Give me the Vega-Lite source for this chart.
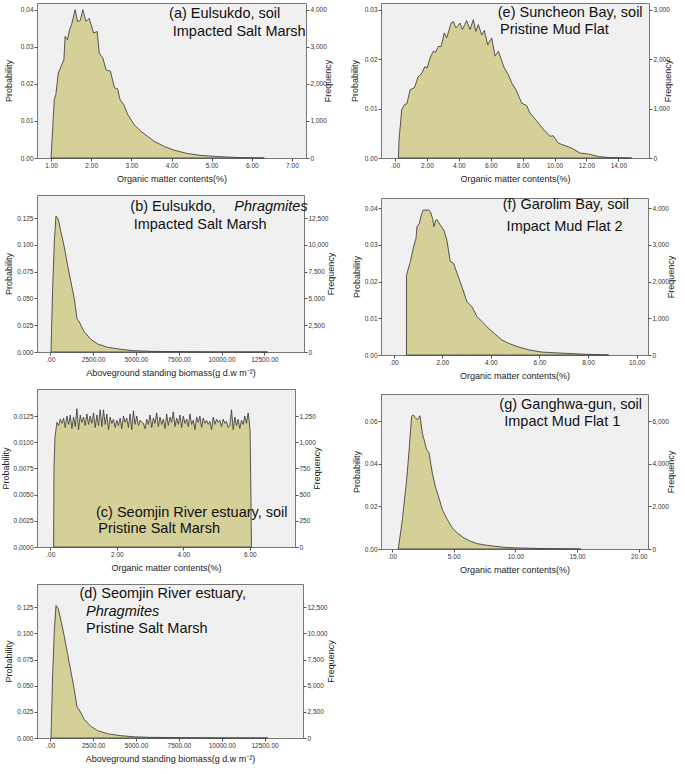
{
  "$schema": "https://vega.github.io/schema/vega-lite/v6.json",
  "padding": {"left": 0, "top": 2, "right": 0, "bottom": 0},
  "background": "white",
  "config": {
    "view": {"fill": "#f0f0f0", "stroke": "#777777", "strokeWidth": 1},
    "axis": {"labelFont": "Liberation Sans", "labelFontSize": 6.5, "labelColor": "#333", "tickColor": "#555", "tickSize": 3, "domain": false, "grid": false, "titleFont": "Liberation Sans", "titleFontSize": 9, "titleFontWeight": "normal", "titleColor": "#222", "labelPadding": 1, "titlePadding": 3, "labelOverlap": false},
    "axisX": {"titlePadding": 6},
    "area": {"color": "#d5cf98", "stroke": "#3c3c3c", "strokeWidth": 0.85, "strokeJoin": "round"},
    "text": {"font": "Liberation Sans", "fontSize": 14.5, "align": "left", "baseline": "middle", "color": "#111"}
  },
  "datasets": {
    "a": [
      {"x": 1.0, "p": 0}, {"x": 1.08, "p": 0.0157}, {"x": 1.12, "p": 0.0171}, {"x": 1.18, "p": 0.0229}, {"x": 1.25, "p": 0.0247}, {"x": 1.32, "p": 0.0265}, {"x": 1.35, "p": 0.0328}, {"x": 1.41, "p": 0.0319}, {"x": 1.46, "p": 0.0346}, {"x": 1.51, "p": 0.0359}, {"x": 1.6, "p": 0.04}, {"x": 1.66, "p": 0.0368}, {"x": 1.73, "p": 0.0371}, {"x": 1.79, "p": 0.04}, {"x": 1.87, "p": 0.0368}, {"x": 1.95, "p": 0.0377}, {"x": 2.06, "p": 0.0337}, {"x": 2.15, "p": 0.0341}, {"x": 2.2, "p": 0.0283}, {"x": 2.29, "p": 0.027}, {"x": 2.37, "p": 0.0238}, {"x": 2.48, "p": 0.0234}, {"x": 2.58, "p": 0.0189}, {"x": 2.66, "p": 0.0186}, {"x": 2.72, "p": 0.0157}, {"x": 2.81, "p": 0.0144}, {"x": 2.91, "p": 0.0117}, {"x": 3.07, "p": 0.009}, {"x": 3.24, "p": 0.0072}, {"x": 3.41, "p": 0.0058}, {"x": 3.57, "p": 0.0045}, {"x": 3.82, "p": 0.0031}, {"x": 4.07, "p": 0.0021}, {"x": 4.4, "p": 0.0012}, {"x": 4.73, "p": 0.0007}, {"x": 5.15, "p": 0.0004}, {"x": 5.73, "p": 0.0001}, {"x": 6.31, "p": 0}
    ],
    "b": [
      {"x": 39, "p": 0}, {"x": 136, "p": 0.059}, {"x": 234, "p": 0.1026}, {"x": 331, "p": 0.1269}, {"x": 467, "p": 0.1238}, {"x": 623, "p": 0.1119}, {"x": 818, "p": 0.0979}, {"x": 1012, "p": 0.0808}, {"x": 1207, "p": 0.0653}, {"x": 1402, "p": 0.0498}, {"x": 1558, "p": 0.0311}, {"x": 1694, "p": 0.028}, {"x": 1986, "p": 0.0187}, {"x": 2375, "p": 0.0118}, {"x": 2765, "p": 0.0075}, {"x": 3349, "p": 0.0044}, {"x": 4128, "p": 0.0025}, {"x": 4906, "p": 0.0012}, {"x": 5880, "p": 0.0006}, {"x": 7827, "p": 0.0003}, {"x": 9774, "p": 0.0001}, {"x": 12694, "p": 0}
    ],
    "c": [
      {"x": 0.1, "p": 0}, {"x": 0.11, "p": 0.0075}, {"x": 0.14, "p": 0.0105}, {"x": 0.17, "p": 0.0112},
      {"x": 0.2, "p": 0.0119}, {"x": 0.25, "p": 0.0116}, {"x": 0.3, "p": 0.0122}, {"x": 0.35, "p": 0.0118}, {"x": 0.4, "p": 0.0123}, {"x": 0.45, "p": 0.0114}, {"x": 0.5, "p": 0.0125}, {"x": 0.55, "p": 0.0117}, {"x": 0.6, "p": 0.0126}, {"x": 0.65, "p": 0.0113}, {"x": 0.7, "p": 0.0124}, {"x": 0.75, "p": 0.0115}, {"x": 0.8, "p": 0.0132}, {"x": 0.85, "p": 0.0112}, {"x": 0.9, "p": 0.0126}, {"x": 0.95, "p": 0.0119},
      {"x": 1.0, "p": 0.0124}, {"x": 1.05, "p": 0.0116}, {"x": 1.1, "p": 0.0127}, {"x": 1.15, "p": 0.0117}, {"x": 1.2, "p": 0.0125}, {"x": 1.25, "p": 0.0118}, {"x": 1.3, "p": 0.0128}, {"x": 1.35, "p": 0.0114}, {"x": 1.4, "p": 0.0126}, {"x": 1.45, "p": 0.0116}, {"x": 1.5, "p": 0.0131}, {"x": 1.55, "p": 0.0115}, {"x": 1.6, "p": 0.0131}, {"x": 1.65, "p": 0.0117}, {"x": 1.7, "p": 0.0127}, {"x": 1.75, "p": 0.0112}, {"x": 1.8, "p": 0.0124}, {"x": 1.85, "p": 0.0118}, {"x": 1.9, "p": 0.0122}, {"x": 1.95, "p": 0.0114},
      {"x": 2.0, "p": 0.0121}, {"x": 2.05, "p": 0.0116}, {"x": 2.1, "p": 0.0123}, {"x": 2.15, "p": 0.0113}, {"x": 2.2, "p": 0.0125}, {"x": 2.25, "p": 0.0119}, {"x": 2.3, "p": 0.0123}, {"x": 2.35, "p": 0.0114}, {"x": 2.4, "p": 0.0127}, {"x": 2.45, "p": 0.0112}, {"x": 2.5, "p": 0.013}, {"x": 2.55, "p": 0.0117}, {"x": 2.6, "p": 0.0125}, {"x": 2.65, "p": 0.0116}, {"x": 2.7, "p": 0.0121}, {"x": 2.75, "p": 0.0119}, {"x": 2.8, "p": 0.0118}, {"x": 2.85, "p": 0.0113}, {"x": 2.9, "p": 0.0122}, {"x": 2.95, "p": 0.0117},
      {"x": 3.0, "p": 0.0126}, {"x": 3.05, "p": 0.0114}, {"x": 3.1, "p": 0.0123}, {"x": 3.15, "p": 0.0118}, {"x": 3.2, "p": 0.0128}, {"x": 3.25, "p": 0.0115}, {"x": 3.3, "p": 0.0124}, {"x": 3.35, "p": 0.0117}, {"x": 3.4, "p": 0.0122}, {"x": 3.45, "p": 0.0113}, {"x": 3.5, "p": 0.0127}, {"x": 3.55, "p": 0.0116}, {"x": 3.6, "p": 0.0124}, {"x": 3.65, "p": 0.0119}, {"x": 3.7, "p": 0.0129}, {"x": 3.75, "p": 0.0115}, {"x": 3.8, "p": 0.0123}, {"x": 3.85, "p": 0.0117}, {"x": 3.9, "p": 0.0126}, {"x": 3.95, "p": 0.0114},
      {"x": 4.0, "p": 0.0125}, {"x": 4.05, "p": 0.0118}, {"x": 4.1, "p": 0.0122}, {"x": 4.15, "p": 0.0115}, {"x": 4.2, "p": 0.0127}, {"x": 4.25, "p": 0.0117}, {"x": 4.3, "p": 0.0121}, {"x": 4.35, "p": 0.0112}, {"x": 4.4, "p": 0.0124}, {"x": 4.45, "p": 0.0119}, {"x": 4.5, "p": 0.0125}, {"x": 4.55, "p": 0.0114}, {"x": 4.6, "p": 0.0123}, {"x": 4.65, "p": 0.0118}, {"x": 4.7, "p": 0.0121}, {"x": 4.75, "p": 0.0117}, {"x": 4.8, "p": 0.012}, {"x": 4.85, "p": 0.0112}, {"x": 4.9, "p": 0.0124}, {"x": 4.95, "p": 0.0117},
      {"x": 5.0, "p": 0.0122}, {"x": 5.05, "p": 0.0119}, {"x": 5.1, "p": 0.0121}, {"x": 5.15, "p": 0.0115}, {"x": 5.2, "p": 0.0122}, {"x": 5.25, "p": 0.0118}, {"x": 5.3, "p": 0.012}, {"x": 5.35, "p": 0.0114}, {"x": 5.4, "p": 0.0116}, {"x": 5.45, "p": 0.0131}, {"x": 5.5, "p": 0.0112}, {"x": 5.55, "p": 0.0124}, {"x": 5.6, "p": 0.0116}, {"x": 5.65, "p": 0.0122}, {"x": 5.7, "p": 0.0113}, {"x": 5.75, "p": 0.0121}, {"x": 5.8, "p": 0.0117}, {"x": 5.85, "p": 0.0125}, {"x": 5.9, "p": 0.0118}, {"x": 5.95, "p": 0.0128},
      {"x": 5.98, "p": 0.0121}, {"x": 6.01, "p": 0.011}, {"x": 6.03, "p": 0.006}, {"x": 6.05, "p": 0}
    ],
    "d": [
      {"x": 39, "p": 0}, {"x": 136, "p": 0.061}, {"x": 234, "p": 0.1027}, {"x": 331, "p": 0.1268}, {"x": 467, "p": 0.1236}, {"x": 623, "p": 0.1122}, {"x": 818, "p": 0.097}, {"x": 1012, "p": 0.0798}, {"x": 1207, "p": 0.0632}, {"x": 1402, "p": 0.046}, {"x": 1558, "p": 0.0295}, {"x": 1694, "p": 0.0268}, {"x": 1986, "p": 0.0176}, {"x": 2375, "p": 0.011}, {"x": 2765, "p": 0.007}, {"x": 3349, "p": 0.004}, {"x": 4128, "p": 0.0022}, {"x": 4906, "p": 0.0011}, {"x": 5880, "p": 0.0006}, {"x": 7827, "p": 0.0003}, {"x": 9774, "p": 0.0001}, {"x": 12694, "p": 0}
    ],
    "e": [
      {"x": 0.21, "p": 0}, {"x": 0.25, "p": 0.0037}, {"x": 0.42, "p": 0.0098}, {"x": 0.59, "p": 0.0108}, {"x": 0.75, "p": 0.011}, {"x": 0.94, "p": 0.0138}, {"x": 1.21, "p": 0.0142}, {"x": 1.46, "p": 0.0165}, {"x": 1.63, "p": 0.0169}, {"x": 1.88, "p": 0.0185}, {"x": 2.01, "p": 0.0182}, {"x": 2.19, "p": 0.0202}, {"x": 2.4, "p": 0.0216}, {"x": 2.55, "p": 0.0214}, {"x": 2.72, "p": 0.0226}, {"x": 2.88, "p": 0.0225}, {"x": 3.09, "p": 0.0253}, {"x": 3.24, "p": 0.0243}, {"x": 3.51, "p": 0.0273}, {"x": 3.66, "p": 0.0276}, {"x": 3.82, "p": 0.0263}, {"x": 4.07, "p": 0.0273}, {"x": 4.22, "p": 0.026}, {"x": 4.49, "p": 0.0278}, {"x": 4.7, "p": 0.026}, {"x": 4.91, "p": 0.028}, {"x": 5.06, "p": 0.0256}, {"x": 5.22, "p": 0.027}, {"x": 5.43, "p": 0.0249}, {"x": 5.6, "p": 0.0258}, {"x": 5.81, "p": 0.0229}, {"x": 6.06, "p": 0.0243}, {"x": 6.27, "p": 0.0206}, {"x": 6.48, "p": 0.0216}, {"x": 6.85, "p": 0.0182}, {"x": 7.1, "p": 0.0169}, {"x": 7.31, "p": 0.0152}, {"x": 7.58, "p": 0.0138}, {"x": 7.94, "p": 0.0111}, {"x": 8.25, "p": 0.0106}, {"x": 8.46, "p": 0.0091}, {"x": 8.98, "p": 0.0071}, {"x": 9.4, "p": 0.0054}, {"x": 9.72, "p": 0.0044}, {"x": 9.92, "p": 0.0045}, {"x": 10.24, "p": 0.003}, {"x": 10.66, "p": 0.0025}, {"x": 11.07, "p": 0.002}, {"x": 11.6, "p": 0.001}, {"x": 12.12, "p": 0.0008}, {"x": 12.75, "p": 0.0003}, {"x": 13.37, "p": 0.0001}, {"x": 14.83, "p": 0}
    ],
    "f": [
      {"x": 0.53, "p": 0}, {"x": 0.531, "p": 0.0218}, {"x": 0.69, "p": 0.0255}, {"x": 0.82, "p": 0.0295}, {"x": 0.92, "p": 0.0318}, {"x": 0.96, "p": 0.035}, {"x": 1.06, "p": 0.0359}, {"x": 1.14, "p": 0.0382}, {"x": 1.21, "p": 0.0395}, {"x": 1.44, "p": 0.0395}, {"x": 1.51, "p": 0.0391}, {"x": 1.6, "p": 0.0373}, {"x": 1.66, "p": 0.035}, {"x": 1.73, "p": 0.0368}, {"x": 1.8, "p": 0.0368}, {"x": 1.91, "p": 0.0355}, {"x": 2.06, "p": 0.0341}, {"x": 2.19, "p": 0.0314}, {"x": 2.33, "p": 0.0255}, {"x": 2.47, "p": 0.025}, {"x": 2.61, "p": 0.0223}, {"x": 2.81, "p": 0.0186}, {"x": 3.02, "p": 0.0145}, {"x": 3.22, "p": 0.0132}, {"x": 3.43, "p": 0.0105}, {"x": 3.64, "p": 0.0091}, {"x": 3.84, "p": 0.0077}, {"x": 4.05, "p": 0.0064}, {"x": 4.46, "p": 0.0041}, {"x": 4.73, "p": 0.0032}, {"x": 5.08, "p": 0.0023}, {"x": 5.56, "p": 0.0014}, {"x": 6.1, "p": 0.0008}, {"x": 6.93, "p": 0.0005}, {"x": 7.89, "p": 0.0002}, {"x": 8.85, "p": 0}
    ],
    "g": [
      {"x": 0.51, "p": 0}, {"x": 0.84, "p": 0.0138}, {"x": 1.19, "p": 0.0326}, {"x": 1.38, "p": 0.0459}, {"x": 1.59, "p": 0.0624}, {"x": 1.73, "p": 0.0631}, {"x": 1.86, "p": 0.062}, {"x": 2.05, "p": 0.0608}, {"x": 2.27, "p": 0.0627}, {"x": 2.46, "p": 0.0545}, {"x": 2.81, "p": 0.0467}, {"x": 3.0, "p": 0.0454}, {"x": 3.27, "p": 0.0357}, {"x": 3.54, "p": 0.0287}, {"x": 3.81, "p": 0.024}, {"x": 4.08, "p": 0.0185}, {"x": 4.49, "p": 0.0138}, {"x": 4.89, "p": 0.0099}, {"x": 5.3, "p": 0.0075}, {"x": 5.84, "p": 0.0052}, {"x": 6.38, "p": 0.0036}, {"x": 6.92, "p": 0.0025}, {"x": 7.73, "p": 0.0017}, {"x": 9.08, "p": 0.0008}, {"x": 10.16, "p": 0.0005}, {"x": 12.32, "p": 0.0002}, {"x": 15.3, "p": 0}
    ]
  },
  "hconcat": [
    {
      "spacing": 10,
      "align": "each",
      "vconcat": [
        {
          "width": 269, "height": 155,
          "layer": [
            {"layer": [
              {"data": {"name": "a"}, "mark": {"type": "area"},
               "encoding": {
                 "x": {"field": "x", "type": "quantitative", "scale": {"domain": [0.65, 7.35], "nice": false, "zero": false}, "axis": {"title": "Organic matter contents(%)", "values": [1, 2, 3, 4, 5, 6, 7], "labelExpr": "datum.value == 0 ? '.00' : format(datum.value, '.2f')"}},
                 "y": {"field": "p", "type": "quantitative", "scale": {"domain": [0, 0.0418], "nice": false}, "axis": {"orient": "left", "title": "Probability", "titlePadding": 7, "values": [0, 0.01, 0.02, 0.03, 0.04], "labelExpr": "format(datum.value, '.2f')"}}
               }},
              {"data": {"values": [{}]}, "mark": {"type": "text", "text": "(a) Eulsukdo, soil"}, "encoding": {"x": {"datum": 3.94, "type": "quantitative", "axis": null}, "y": {"datum": 0.0387, "type": "quantitative", "axis": null}}},
              {"data": {"values": [{}]}, "mark": {"type": "text", "text": "Impacted Salt Marsh"}, "encoding": {"x": {"datum": 4.03, "type": "quantitative", "axis": null}, "y": {"datum": 0.0341, "type": "quantitative", "axis": null}}}
            ], "resolve": {"axis": {"x": "independent", "y": "independent"}}},
            {"data": {"name": "a"}, "mark": {"type": "rule", "opacity": 0},
             "encoding": {"y": {"field": "p", "type": "quantitative", "scale": {"domain": [0, 4180], "nice": false}, "axis": {"orient": "right", "title": "Frequency", "titleAngle": 270, "titlePadding": 6, "values": [0, 1000, 2000, 3000, 4000], "labelExpr": "format(datum.value, ',')"}}}}
          ],
          "resolve": {"scale": {"y": "independent"}}
        },
        {
          "width": 267, "height": 157,
          "layer": [
            {"layer": [
              {"data": {"name": "b"}, "mark": {"type": "area"},
               "encoding": {
                 "x": {"field": "x", "type": "quantitative", "scale": {"domain": [-777, 14818], "nice": false, "zero": false}, "axis": {"title": "Aboveground standing biomass(g d.w  m⁻²)", "values": [0, 2500, 5000, 7500, 10000, 12500], "labelExpr": "datum.value == 0 ? '.00' : format(datum.value, '.2f')"}},
                 "y": {"field": "p", "type": "quantitative", "scale": {"domain": [0, 0.1465], "nice": false}, "axis": {"orient": "left", "title": "Probability", "titlePadding": 3, "values": [0, 0.025, 0.05, 0.075, 0.1, 0.125], "labelExpr": "format(datum.value, '.3f')"}}
               }},
              {"data": {"values": [{}]}, "mark": {"type": "text", "text": "(b) Eulsukdo,"}, "encoding": {"x": {"datum": 4673, "type": "quantitative", "axis": null}, "y": {"datum": 0.1353, "type": "quantitative", "axis": null}}},
              {"data": {"values": [{}]}, "mark": {"type": "text", "text": "Phragmites", "fontStyle": "italic"}, "encoding": {"x": {"datum": 10748, "type": "quantitative", "axis": null}, "y": {"datum": 0.1353, "type": "quantitative", "axis": null}}},
              {"data": {"values": [{}]}, "mark": {"type": "text", "text": "Impacted Salt Marsh"}, "encoding": {"x": {"datum": 4871, "type": "quantitative", "axis": null}, "y": {"datum": 0.1188, "type": "quantitative", "axis": null}}}
            ], "resolve": {"axis": {"x": "independent", "y": "independent"}}},
            {"data": {"name": "b"}, "mark": {"type": "rule", "opacity": 0},
             "encoding": {"y": {"field": "p", "type": "quantitative", "scale": {"domain": [0, 14650], "nice": false}, "axis": {"orient": "right", "title": "Frequency", "titleAngle": 270, "titlePadding": 8, "values": [0, 2500, 5000, 7500, 10000, 12500], "labelExpr": "format(datum.value, ',')"}}}}
          ],
          "resolve": {"scale": {"y": "independent"}}
        },
        {
          "width": 258, "height": 158,
          "layer": [
            {"layer": [
              {"data": {"name": "c"}, "mark": {"type": "area"},
               "encoding": {
                 "x": {"field": "x", "type": "quantitative", "scale": {"domain": [-0.4, 7.36], "nice": false, "zero": false}, "axis": {"title": "Organic matter contents(%)", "values": [0, 2, 4, 6], "labelExpr": "datum.value == 0 ? '.00' : format(datum.value, '.2f')"}},
                 "y": {"field": "p", "type": "quantitative", "scale": {"domain": [0, 0.01508], "nice": false}, "axis": {"orient": "left", "title": "Probability", "titlePadding": 3, "values": [0, 0.0025, 0.005, 0.0075, 0.01, 0.0125], "labelExpr": "format(datum.value, '.4f')"}}
               }},
              {"data": {"values": [{}]}, "mark": {"type": "text", "text": "(c) Seomjin River estuary, soil"}, "encoding": {"x": {"datum": 1.375, "type": "quantitative", "axis": null}, "y": {"datum": 0.00327, "type": "quantitative", "axis": null}}},
              {"data": {"values": [{}]}, "mark": {"type": "text", "text": "Pristine Salt Marsh"}, "encoding": {"x": {"datum": 1.444, "type": "quantitative", "axis": null}, "y": {"datum": 0.00168, "type": "quantitative", "axis": null}}}
            ], "resolve": {"axis": {"x": "independent", "y": "independent"}}},
            {"data": {"name": "c"}, "mark": {"type": "rule", "opacity": 0},
             "encoding": {"y": {"field": "p", "type": "quantitative", "scale": {"domain": [0, 1508], "nice": false}, "axis": {"orient": "right", "title": "Frequency", "titleAngle": 270, "titlePadding": 6, "values": [0, 250, 500, 750, 1000, 1250], "labelExpr": "format(datum.value, ',')"}}}}
          ],
          "resolve": {"scale": {"y": "independent"}}
        },
        {
          "width": 266, "height": 154,
          "layer": [
            {"layer": [
              {"data": {"name": "d"}, "mark": {"type": "area"},
               "encoding": {
                 "x": {"field": "x", "type": "quantitative", "scale": {"domain": [-777, 14743], "nice": false, "zero": false}, "axis": {"title": "Aboveground standing biomass(g d.w  m⁻²)", "values": [0, 2500, 5000, 7500, 10000, 12500], "labelExpr": "datum.value == 0 ? '.00' : format(datum.value, '.2f')"}},
                 "y": {"field": "p", "type": "quantitative", "scale": {"domain": [0, 0.1473], "nice": false}, "axis": {"orient": "left", "title": "Probability", "titlePadding": 3, "values": [0, 0.025, 0.05, 0.075, 0.1, 0.125], "labelExpr": "format(datum.value, '.3f')"}}
               }},
              {"data": {"values": [{}]}, "mark": {"type": "text", "text": "(d) Seomjin River estuary,"}, "encoding": {"x": {"datum": 1700, "type": "quantitative", "axis": null}, "y": {"datum": 0.1377, "type": "quantitative", "axis": null}}},
              {"data": {"values": [{}]}, "mark": {"type": "text", "text": "Phragmites", "fontStyle": "italic"}, "encoding": {"x": {"datum": 2080, "type": "quantitative", "axis": null}, "y": {"datum": 0.1201, "type": "quantitative", "axis": null}}},
              {"data": {"values": [{}]}, "mark": {"type": "text", "text": "Pristine Salt Marsh"}, "encoding": {"x": {"datum": 2080, "type": "quantitative", "axis": null}, "y": {"datum": 0.1043, "type": "quantitative", "axis": null}}}
            ], "resolve": {"axis": {"x": "independent", "y": "independent"}}},
            {"data": {"name": "d"}, "mark": {"type": "rule", "opacity": 0},
             "encoding": {"y": {"field": "p", "type": "quantitative", "scale": {"domain": [0, 14730], "nice": false}, "axis": {"orient": "right", "title": "Frequency", "titleAngle": 270, "titlePadding": 9, "values": [0, 2500, 5000, 7500, 10000, 12500], "labelExpr": "format(datum.value, ',')"}}}}
          ],
          "resolve": {"scale": {"y": "independent"}}
        }
      ]
    },
    {
      "spacing": 12,
      "align": "each",
      "vconcat": [
        {
          "width": 268, "height": 155,
          "layer": [
            {"layer": [
              {"data": {"name": "e"}, "mark": {"type": "area"},
               "encoding": {
                 "x": {"field": "x", "type": "quantitative", "scale": {"domain": [-0.88, 15.92], "nice": false, "zero": false}, "axis": {"title": "Organic matter contents(%)", "values": [0, 2, 4, 6, 8, 10, 12, 14], "labelExpr": "datum.value == 0 ? '.00' : format(datum.value, '.2f')"}},
                 "y": {"field": "p", "type": "quantitative", "scale": {"domain": [0, 0.03136], "nice": false}, "axis": {"orient": "left", "title": "Probability", "titlePadding": 5, "values": [0, 0.01, 0.02, 0.03], "labelExpr": "format(datum.value, '.2f')"}}
               }},
              {"data": {"values": [{}]}, "mark": {"type": "text", "text": "(e) Suncheon Bay, soil"}, "encoding": {"x": {"datum": 6.44, "type": "quantitative", "axis": null}, "y": {"datum": 0.0293, "type": "quantitative", "axis": null}}},
              {"data": {"values": [{}]}, "mark": {"type": "text", "text": "Pristine Mud Flat"}, "encoding": {"x": {"datum": 6.58, "type": "quantitative", "axis": null}, "y": {"datum": 0.0258, "type": "quantitative", "axis": null}}}
            ], "resolve": {"axis": {"x": "independent", "y": "independent"}}},
            {"data": {"name": "e"}, "mark": {"type": "rule", "opacity": 0},
             "encoding": {"y": {"field": "p", "type": "quantitative", "scale": {"domain": [0, 3136], "nice": false}, "axis": {"orient": "right", "title": "Frequency", "titleAngle": 270, "titlePadding": 3, "values": [0, 1000, 2000, 3000], "labelExpr": "format(datum.value, ',')"}}}}
          ],
          "resolve": {"scale": {"y": "independent"}}
        },
        {
          "width": 267, "height": 157,
          "layer": [
            {"layer": [
              {"data": {"name": "f"}, "mark": {"type": "area"},
               "encoding": {
                 "x": {"field": "x", "type": "quantitative", "scale": {"domain": [-0.52, 10.47], "nice": false, "zero": false}, "axis": {"title": "Organic matter contents(%)", "values": [0, 2, 4, 6, 8, 10], "labelExpr": "datum.value == 0 ? '.00' : format(datum.value, '.2f')"}},
                 "y": {"field": "p", "type": "quantitative", "scale": {"domain": [0, 0.0428], "nice": false}, "axis": {"orient": "left", "title": "Probability", "titlePadding": 3, "values": [0, 0.01, 0.02, 0.03, 0.04], "labelExpr": "format(datum.value, '.2f')"}}
               }},
              {"data": {"values": [{}]}, "mark": {"type": "text", "text": "(f) Garolim Bay, soil"}, "encoding": {"x": {"datum": 4.49, "type": "quantitative", "axis": null}, "y": {"datum": 0.0409, "type": "quantitative", "axis": null}}},
              {"data": {"values": [{}]}, "mark": {"type": "text", "text": "Impact Mud Flat 2"}, "encoding": {"x": {"datum": 4.65, "type": "quantitative", "axis": null}, "y": {"datum": 0.035, "type": "quantitative", "axis": null}}}
            ], "resolve": {"axis": {"x": "independent", "y": "independent"}}},
            {"data": {"name": "f"}, "mark": {"type": "rule", "opacity": 0},
             "encoding": {"y": {"field": "p", "type": "quantitative", "scale": {"domain": [0, 4280], "nice": false}, "axis": {"orient": "right", "title": "Frequency", "titleAngle": 270, "titlePadding": 7, "values": [0, 1000, 2000, 3000, 4000], "labelExpr": "format(datum.value, ',')"}}}}
          ],
          "resolve": {"scale": {"y": "independent"}}
        },
        {
          "width": 267, "height": 155,
          "layer": [
            {"layer": [
              {"data": {"name": "g"}, "mark": {"type": "area"},
               "encoding": {
                 "x": {"field": "x", "type": "quantitative", "scale": {"domain": [-0.89, 20.75], "nice": false, "zero": false}, "axis": {"title": "Organic matter contents(%)", "values": [0, 5, 10, 15, 20], "labelExpr": "datum.value == 0 ? '.00' : format(datum.value, '.2f')"}},
                 "y": {"field": "p", "type": "quantitative", "scale": {"domain": [0, 0.0729], "nice": false}, "axis": {"orient": "left", "title": "Probability", "titlePadding": 3, "values": [0, 0.02, 0.04, 0.06], "labelExpr": "format(datum.value, '.2f')"}}
               }},
              {"data": {"values": [{}]}, "mark": {"type": "text", "text": "(g) Ganghwa-gun, soil"}, "encoding": {"x": {"datum": 8.7, "type": "quantitative", "axis": null}, "y": {"datum": 0.0678, "type": "quantitative", "axis": null}}},
              {"data": {"values": [{}]}, "mark": {"type": "text", "text": "Impact Mud Flat 1"}, "encoding": {"x": {"datum": 9.1, "type": "quantitative", "axis": null}, "y": {"datum": 0.0595, "type": "quantitative", "axis": null}}}
            ], "resolve": {"axis": {"x": "independent", "y": "independent"}}},
            {"data": {"name": "g"}, "mark": {"type": "rule", "opacity": 0},
             "encoding": {"y": {"field": "p", "type": "quantitative", "scale": {"domain": [0, 7290], "nice": false}, "axis": {"orient": "right", "title": "Frequency", "titleAngle": 270, "titlePadding": 7, "values": [0, 2000, 4000, 6000], "labelExpr": "format(datum.value, ',')"}}}}
          ],
          "resolve": {"scale": {"y": "independent"}}
        }
      ]
    }
  ],
  "spacing": 12
}
